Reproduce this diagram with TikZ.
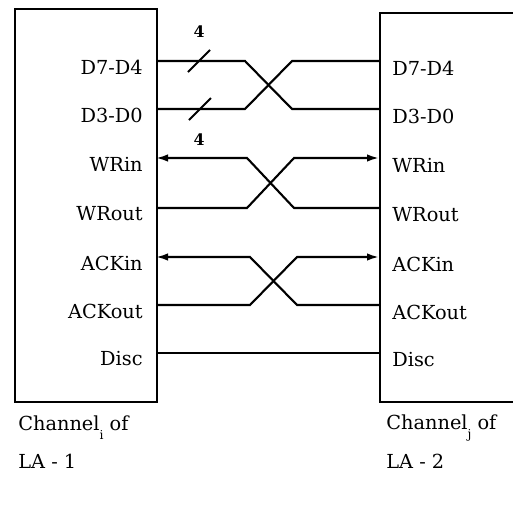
\documentclass[tikz,border=0pt]{standalone}
\usepackage{fontspec}
\setmainfont{DejaVu Serif}
\usepackage{tikz}
\usetikzlibrary{arrows.meta}

\begin{document}
\begin{tikzpicture}[x=0.02cm, y=-0.02cm,
    box/.style={draw, rectangle, line width=1.2pt, anchor=north west, inner sep=0pt},
    wire/.style={line width=1.2pt},
    tip/.style={wire, -{Latex[length=2.4mm, width=1.5mm]}},
    pin/.style={font=\fontsize{11}{13}\selectfont, inner sep=0pt},
    width/.style={font=\fontsize{9}{11}\selectfont\bfseries, inner sep=0pt},
    caption/.style={font=\fontsize{11}{13}\selectfont, anchor=west, inner sep=0pt}
  ]
    \useasboundingbox (0,0) rectangle (513,506);

    % Boxes
    \node[box, minimum width=2.84cm, minimum height=7.86cm] (la1) at (14,8) {};
    \begin{scope}
      \clip (0,0) rectangle (513,506);
      \node[box, minimum width=3cm, minimum height=7.78cm] (la2) at (379,12) {};
    \end{scope}

    % Ports and pin names
    \foreach \n/\y/\txt in {1/61/D7-D4, 2/109/D3-D0, 3/158/WRin, 4/208/WRout,
                            5/257/ACKin, 6/305/ACKout, 7/353/Disc} {
      \coordinate (l\n) at (156,\y);
      \coordinate (r\n) at (379,\y);
      \node[pin, anchor=east] (lt\n) at (143,\y+6) {\txt};
      \node[pin, anchor=west] (rt\n) at (392,\y+7) {\txt};
    }

    % Crossed wires
    \draw[wire] (l1) -- ++(89,0) -- ++(47,48) -- (r2);
    \draw[wire] (l2) -- ++(89,0) -- ++(47,-48) -- (r1);
    \draw[tip] (r4) -- ++(-85,0) -- ++(-47,-50) -- (l3);
    \draw[tip] (l4) -- ++(91,0) -- ++(47,-50) -- (r3);
    \draw[tip] (r6) -- ++(-82,0) -- ++(-47,-48) -- (l5);
    \draw[tip] (l6) -- ++(94,0) -- ++(47,-48) -- (r5);
    \draw[wire] (l7) -- (r7);

    % Bus width marks
    \draw[wire] ([xshift=0.86cm]l1) ++(-11,11) -- ++(22,-22);
    \draw[wire] ([xshift=0.88cm]l2) ++(-11,11) -- ++(22,-22);
    \node[width] (w1) at (199,32) {4};
    \node[width] (w2) at (199,140) {4};

    % Captions
    \node[caption] (cap1) at (18,428) {Channel\raisebox{-0.9ex}{\scriptsize i} of};
    \node[caption] (name1) at (18,461) {LA - 1};
    \node[caption] (cap2) at (386,428) {Channel\raisebox{-0.9ex}{\scriptsize j} of};
    \node[caption] (name2) at (386,461) {LA - 2};
  \end{tikzpicture}
\end{document}
